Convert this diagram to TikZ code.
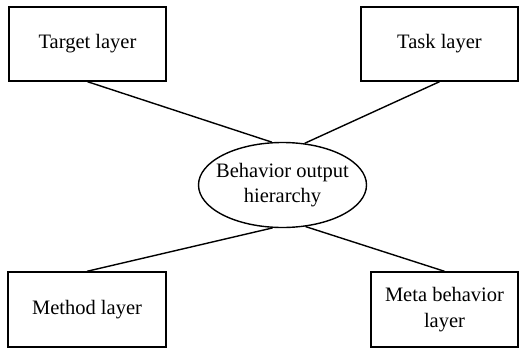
\documentclass[tikz,border=0pt]{standalone}
\usepackage{fontspec}
\setmainfont{Liberation Serif}
\usetikzlibrary{shapes.geometric}
\begin{document}
\begin{tikzpicture}[x=1pt,y=-1pt,
  layerbox/.style={draw,line width=1.4pt,minimum height=74pt,inner sep=0pt,align=center,
    font=\fontsize{20.5}{26.5}\selectfont},
  hub/.style={draw,ellipse,line width=1.4pt,minimum width=168pt,minimum height=85pt,
    inner xsep=-8pt,inner ysep=0pt,align=center,font=\fontsize{20.5}{25}\selectfont},
  link/.style={line width=1.4pt}]
\useasboundingbox (0,0) rectangle (519,348);
\node[layerbox,minimum width=157pt] (target) at (87.5,44) {Target layer};
\node[layerbox,minimum width=157pt] (task) at (439.5,44) {Task layer};
\node[layerbox,minimum width=158pt,minimum height=75pt] (method) at (87,309.5) {Method layer};
\node[layerbox,minimum width=147pt,minimum height=75pt] (meta) at (444.5,309.5) {Meta behavior\\layer};
\node[hub] (hub) at (282.5,185) {Behavior output\\hierarchy};
\draw[link] (target.south) -- (hub.104);
\draw[link] (task.south) -- (hub.62);
\draw[link] (method.north) -- (hub.257);
\draw[link] (meta.north) -- (hub.299);
\end{tikzpicture}
\end{document}
